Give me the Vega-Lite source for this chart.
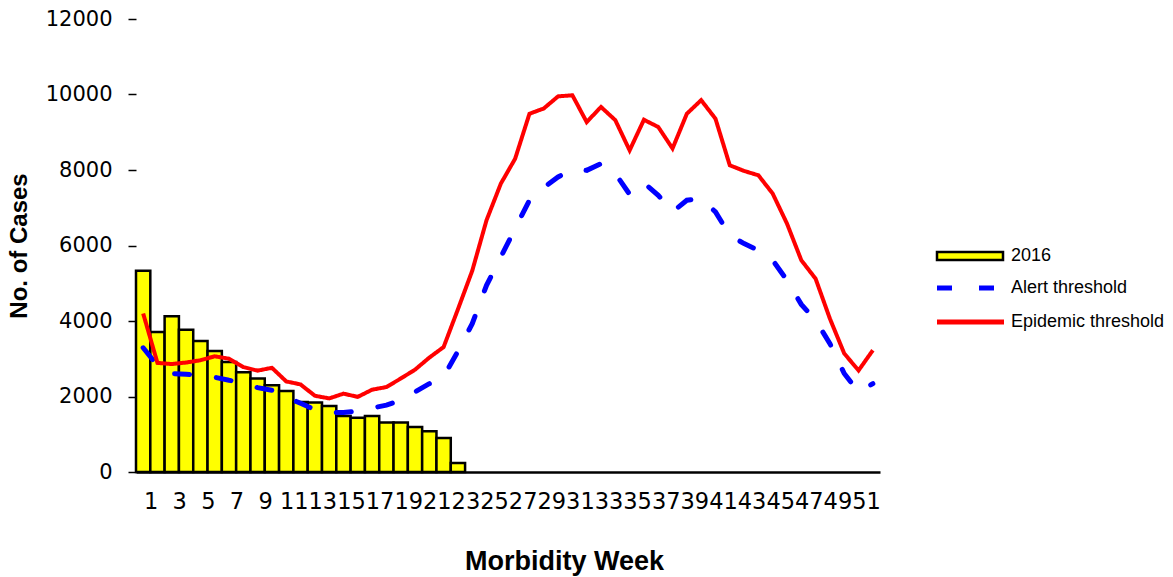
{
  "$schema": "https://vega.github.io/schema/vega-lite/v6.json",
  "width": 744,
  "height": 453,
  "autosize": {"type": "none"},
  "padding": {"left": 136, "top": 19, "right": 293, "bottom": 105},
  "background": "white",
  "config": {"view": {"stroke": null}, "font": "Liberation Sans"},
  "datasets": {
    "bars": [
      {"week": 1, "series": "2016", "value": 5330},
      {"week": 2, "series": "2016", "value": 3710},
      {"week": 3, "series": "2016", "value": 4125},
      {"week": 4, "series": "2016", "value": 3770},
      {"week": 5, "series": "2016", "value": 3470},
      {"week": 6, "series": "2016", "value": 3205},
      {"week": 7, "series": "2016", "value": 2915},
      {"week": 8, "series": "2016", "value": 2640},
      {"week": 9, "series": "2016", "value": 2475},
      {"week": 10, "series": "2016", "value": 2300},
      {"week": 11, "series": "2016", "value": 2145},
      {"week": 12, "series": "2016", "value": 1855},
      {"week": 13, "series": "2016", "value": 1840},
      {"week": 14, "series": "2016", "value": 1750},
      {"week": 15, "series": "2016", "value": 1485},
      {"week": 16, "series": "2016", "value": 1440},
      {"week": 17, "series": "2016", "value": 1485},
      {"week": 18, "series": "2016", "value": 1310},
      {"week": 19, "series": "2016", "value": 1310},
      {"week": 20, "series": "2016", "value": 1195},
      {"week": 21, "series": "2016", "value": 1080},
      {"week": 22, "series": "2016", "value": 900},
      {"week": 23, "series": "2016", "value": 240}
    ],
    "alert": [
      {"week": 1, "series": "Alert threshold", "value": 3290},
      {"week": 2, "series": "Alert threshold", "value": 2820},
      {"week": 3, "series": "Alert threshold", "value": 2605},
      {"week": 4, "series": "Alert threshold", "value": 2590},
      {"week": 5, "series": "Alert threshold", "value": 2560},
      {"week": 6, "series": "Alert threshold", "value": 2510},
      {"week": 7, "series": "Alert threshold", "value": 2430},
      {"week": 8, "series": "Alert threshold", "value": 2360},
      {"week": 9, "series": "Alert threshold", "value": 2235},
      {"week": 10, "series": "Alert threshold", "value": 2165},
      {"week": 11, "series": "Alert threshold", "value": 1990},
      {"week": 12, "series": "Alert threshold", "value": 1820},
      {"week": 13, "series": "Alert threshold", "value": 1650},
      {"week": 14, "series": "Alert threshold", "value": 1575},
      {"week": 15, "series": "Alert threshold", "value": 1575},
      {"week": 16, "series": "Alert threshold", "value": 1615},
      {"week": 17, "series": "Alert threshold", "value": 1695},
      {"week": 18, "series": "Alert threshold", "value": 1770},
      {"week": 19, "series": "Alert threshold", "value": 1900},
      {"week": 20, "series": "Alert threshold", "value": 2120},
      {"week": 21, "series": "Alert threshold", "value": 2340},
      {"week": 22, "series": "Alert threshold", "value": 2525},
      {"week": 23, "series": "Alert threshold", "value": 3200},
      {"week": 24, "series": "Alert threshold", "value": 3930},
      {"week": 25, "series": "Alert threshold", "value": 4945},
      {"week": 26, "series": "Alert threshold", "value": 5695},
      {"week": 27, "series": "Alert threshold", "value": 6450},
      {"week": 28, "series": "Alert threshold", "value": 7200},
      {"week": 29, "series": "Alert threshold", "value": 7535},
      {"week": 30, "series": "Alert threshold", "value": 7815},
      {"week": 31, "series": "Alert threshold", "value": 8010},
      {"week": 32, "series": "Alert threshold", "value": 7990},
      {"week": 33, "series": "Alert threshold", "value": 8170},
      {"week": 34, "series": "Alert threshold", "value": 7905},
      {"week": 35, "series": "Alert threshold", "value": 7355},
      {"week": 36, "series": "Alert threshold", "value": 7660},
      {"week": 37, "series": "Alert threshold", "value": 7330},
      {"week": 38, "series": "Alert threshold", "value": 6890},
      {"week": 39, "series": "Alert threshold", "value": 7200},
      {"week": 40, "series": "Alert threshold", "value": 7240},
      {"week": 41, "series": "Alert threshold", "value": 6890},
      {"week": 42, "series": "Alert threshold", "value": 6270},
      {"week": 43, "series": "Alert threshold", "value": 6050},
      {"week": 44, "series": "Alert threshold", "value": 5875},
      {"week": 45, "series": "Alert threshold", "value": 5610},
      {"week": 46, "series": "Alert threshold", "value": 5080},
      {"week": 47, "series": "Alert threshold", "value": 4440},
      {"week": 48, "series": "Alert threshold", "value": 4020},
      {"week": 49, "series": "Alert threshold", "value": 3400},
      {"week": 50, "series": "Alert threshold", "value": 2610},
      {"week": 51, "series": "Alert threshold", "value": 2120},
      {"week": 52, "series": "Alert threshold", "value": 2340}
    ],
    "epidemic": [
      {"week": 1, "series": "Epidemic threshold", "value": 4200},
      {"week": 2, "series": "Epidemic threshold", "value": 2890},
      {"week": 3, "series": "Epidemic threshold", "value": 2860},
      {"week": 4, "series": "Epidemic threshold", "value": 2900},
      {"week": 5, "series": "Epidemic threshold", "value": 2960},
      {"week": 6, "series": "Epidemic threshold", "value": 3065},
      {"week": 7, "series": "Epidemic threshold", "value": 3000},
      {"week": 8, "series": "Epidemic threshold", "value": 2780},
      {"week": 9, "series": "Epidemic threshold", "value": 2685},
      {"week": 10, "series": "Epidemic threshold", "value": 2760},
      {"week": 11, "series": "Epidemic threshold", "value": 2400},
      {"week": 12, "series": "Epidemic threshold", "value": 2320},
      {"week": 13, "series": "Epidemic threshold", "value": 2020},
      {"week": 14, "series": "Epidemic threshold", "value": 1950},
      {"week": 15, "series": "Epidemic threshold", "value": 2075},
      {"week": 16, "series": "Epidemic threshold", "value": 1990},
      {"week": 17, "series": "Epidemic threshold", "value": 2180},
      {"week": 18, "series": "Epidemic threshold", "value": 2250},
      {"week": 19, "series": "Epidemic threshold", "value": 2475},
      {"week": 20, "series": "Epidemic threshold", "value": 2710},
      {"week": 21, "series": "Epidemic threshold", "value": 3030},
      {"week": 22, "series": "Epidemic threshold", "value": 3310},
      {"week": 23, "series": "Epidemic threshold", "value": 4310},
      {"week": 24, "series": "Epidemic threshold", "value": 5330},
      {"week": 25, "series": "Epidemic threshold", "value": 6670},
      {"week": 26, "series": "Epidemic threshold", "value": 7640},
      {"week": 27, "series": "Epidemic threshold", "value": 8300},
      {"week": 28, "series": "Epidemic threshold", "value": 9490},
      {"week": 29, "series": "Epidemic threshold", "value": 9630},
      {"week": 30, "series": "Epidemic threshold", "value": 9950},
      {"week": 31, "series": "Epidemic threshold", "value": 9980},
      {"week": 32, "series": "Epidemic threshold", "value": 9270},
      {"week": 33, "series": "Epidemic threshold", "value": 9670},
      {"week": 34, "series": "Epidemic threshold", "value": 9320},
      {"week": 35, "series": "Epidemic threshold", "value": 8520},
      {"week": 36, "series": "Epidemic threshold", "value": 9330},
      {"week": 37, "series": "Epidemic threshold", "value": 9140},
      {"week": 38, "series": "Epidemic threshold", "value": 8570},
      {"week": 39, "series": "Epidemic threshold", "value": 9490},
      {"week": 40, "series": "Epidemic threshold", "value": 9850},
      {"week": 41, "series": "Epidemic threshold", "value": 9360},
      {"week": 42, "series": "Epidemic threshold", "value": 8125},
      {"week": 43, "series": "Epidemic threshold", "value": 7975},
      {"week": 44, "series": "Epidemic threshold", "value": 7860},
      {"week": 45, "series": "Epidemic threshold", "value": 7375},
      {"week": 46, "series": "Epidemic threshold", "value": 6580},
      {"week": 47, "series": "Epidemic threshold", "value": 5610},
      {"week": 48, "series": "Epidemic threshold", "value": 5120},
      {"week": 49, "series": "Epidemic threshold", "value": 4060},
      {"week": 50, "series": "Epidemic threshold", "value": 3140},
      {"week": 51, "series": "Epidemic threshold", "value": 2690},
      {"week": 52, "series": "Epidemic threshold", "value": 3225}
    ]
  },
  "encoding": {
    "x": {
      "field": "week",
      "type": "ordinal",
      "scale": {
        "domain": [1,2,3,4,5,6,7,8,9,10,11,12,13,14,15,16,17,18,19,20,21,22,23,24,25,26,27,28,29,30,31,32,33,34,35,36,37,38,39,40,41,42,43,44,45,46,47,48,49,50,51,52],
        "paddingInner": 0,
        "paddingOuter": 0
      },
      "axis": {
        "title": "Morbidity Week",
        "titleFont": "Liberation Sans",
        "titleFontSize": 27,
        "titleFontWeight": "bold",
        "titleColor": "black",
        "titlePadding": 36,
        "titleX": 428,
        "values": [1,3,5,7,9,11,13,15,17,19,21,23,25,27,29,31,33,35,37,39,41,43,45,47,49,51],
        "labelAngle": 0,
        "labelFont": "DejaVu Sans",
        "labelFontSize": 22.5,
        "labelColor": "black",
        "labelOffset": 8,
        "labelPadding": 18,
        "labelOverlap": false,
        "labelBound": false,
        "labelFlush": false,
        "ticks": false,
        "domain": true,
        "domainColor": "black",
        "domainWidth": 2.5,
        "grid": false
      }
    },
    "y": {
      "field": "value",
      "type": "quantitative",
      "scale": {"domain": [0, 12000], "nice": false, "zero": true},
      "axis": {
        "title": "No. of Cases",
        "titleFont": "Liberation Sans",
        "titleFontSize": 24,
        "titleFontWeight": "bold",
        "titleColor": "black",
        "titlePadding": 14,
        "values": [0, 2000, 4000, 6000, 8000, 10000, 12000],
        "format": "d",
        "labelFont": "DejaVu Sans",
        "labelFontSize": 21,
        "labelColor": "black",
        "labelPadding": 16,
        "tickSize": 8,
        "tickColor": "black",
        "tickWidth": 1.5,
        "domain": false,
        "grid": false
      }
    }
  },
  "layer": [
    {
      "data": {"name": "bars"},
      "mark": {"type": "bar", "stroke": "black", "strokeWidth": 2.5, "fillOpacity": 1},
      "encoding": {
        "fill": {
          "field": "series",
          "type": "nominal",
          "scale": {"domain": ["2016"], "range": ["#FFFF00"]},
          "legend": {
            "title": null,
            "orient": "none",
            "legendX": 792,
            "legendY": 228,
            "padding": 0,
            "labelFont": "Liberation Sans",
            "labelFontSize": 18,
            "labelColor": "black",
            "labelOffset": 65,
            "symbolSize": 100,
            "symbolType": "M0,-0.8H13.2V0.8H0Z",
            "symbolStrokeColor": "black",
            "symbolStrokeWidth": 2.5,
            "symbolOpacity": 1
          }
        }
      }
    },
    {
      "data": {"name": "alert"},
      "mark": {"type": "line", "strokeWidth": 5, "strokeCap": "round"},
      "encoding": {
        "stroke": {
          "field": "series",
          "type": "nominal",
          "scale": {"domain": ["Alert threshold", "Epidemic threshold"], "range": ["#0000FF", "#FF0000"]},
          "legend": {
            "title": null,
            "orient": "none",
            "legendX": 792,
            "legendY": 260,
            "padding": 0,
            "labelFont": "Liberation Sans",
            "labelFontSize": 18,
            "labelColor": "black",
            "labelOffset": 65,
            "rowPadding": 14,
            "symbolSize": 100,
            "symbolType": "M0,0H13.4",
            "symbolStrokeWidth": 5,
            "symbolOpacity": 1
          }
        },
        "strokeDash": {
          "field": "series",
          "type": "nominal",
          "scale": {"domain": ["Alert threshold", "Epidemic threshold"], "range": [[15, 27], [1, 0]]},
          "legend": null
        }
      }
    },
    {
      "data": {"name": "epidemic"},
      "mark": {"type": "line", "strokeWidth": 4},
      "encoding": {
        "stroke": {
          "field": "series",
          "type": "nominal",
          "scale": {"domain": ["Alert threshold", "Epidemic threshold"], "range": ["#0000FF", "#FF0000"]},
          "legend": {
            "title": null,
            "orient": "none",
            "legendX": 792,
            "legendY": 260,
            "padding": 0,
            "labelFont": "Liberation Sans",
            "labelFontSize": 18,
            "labelColor": "black",
            "labelOffset": 65,
            "rowPadding": 14,
            "symbolSize": 100,
            "symbolType": "M0,0H13.4",
            "symbolStrokeWidth": 5,
            "symbolOpacity": 1,
            "symbolDash": {"expr": "0"}
          }
        },
        "strokeDash": {
          "field": "series",
          "type": "nominal",
          "scale": {"domain": ["Alert threshold", "Epidemic threshold"], "range": [[15, 27], [1, 0]]},
          "legend": null
        }
      }
    }
  ]
}
